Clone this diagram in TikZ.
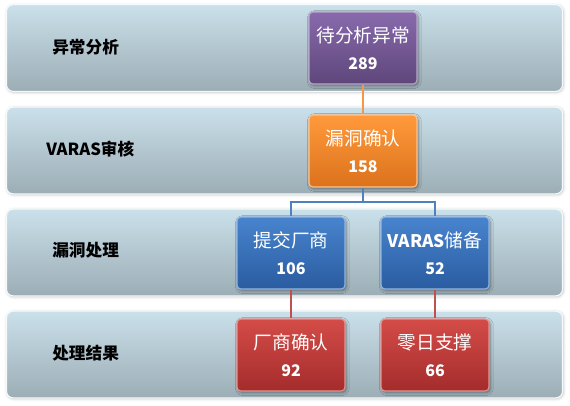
\documentclass[tikz,border=0pt]{standalone}
\usepackage{xcolor}
\usepackage{tikz}
\usepackage{fontspec}
\setmainfont{Noto Sans CJK SC}
\newfontfamily\cjk{Noto Sans CJK SC}
\usetikzlibrary{shadows.blur}
\usetikzlibrary{shapes}
\definecolor{bandtop}{RGB}{202,224,234}
\definecolor{bandbot}{RGB}{156,173,181}
\definecolor{purtop}{RGB}{136,106,172}
\definecolor{purbot}{RGB}{94,70,122}
\definecolor{orgtop}{RGB}{255,154,60}
\definecolor{orgbot}{RGB}{220,114,28}
\definecolor{blutop}{RGB}{72,132,206}
\definecolor{blubot}{RGB}{42,92,160}
\definecolor{redtop}{RGB}{212,76,72}
\definecolor{redbot}{RGB}{164,44,44}
\definecolor{orgline}{RGB}{247,150,70}
\definecolor{bluline}{RGB}{79,129,189}
\definecolor{redline}{RGB}{192,80,77}
\newcommand{\countfont}{\bfseries\fontsize{12}{14}\selectfont}

\begin{document}
\begin{tikzpicture}[x=0.75pt,y=0.75pt,yscale=-1,xscale=1,
  band/.style={draw=white!85!bandtop,line width=0.8pt,rounded corners=5pt,
    top color=bandtop,bottom color=bandbot,minimum width=417pt,minimum height=65pt,
    blur shadow={shadow xshift=0.6pt,shadow yshift=-0.6pt,shadow blur steps=4,shadow opacity=25}},
  steplabel/.style={anchor=west,inner sep=0pt,font=\cjk\bfseries\fontsize{12.5}{14}\selectfont,text=black},
  stat/.style={rounded corners=3pt,minimum width=81pt,minimum height=54pt,align=center,
    text=white,font=\cjk\fontsize{14}{16}\selectfont,line width=0.8pt,
    blur shadow={shadow xshift=1pt,shadow yshift=-1.2pt,shadow blur steps=5,shadow opacity=40}},
  purplebox/.style={stat,draw=purtop!60!white,top color=purtop,bottom color=purbot},
  orangebox/.style={stat,draw=orgtop!60!white,top color=orgtop,bottom color=orgbot},
  bluebox/.style={stat,draw=blutop!60!white,top color=blutop,bottom color=blubot},
  redbox/.style={stat,draw=redtop!60!white,top color=redtop,bottom color=redbot}
]
\useasboundingbox (0,0) rectangle (570,405);

%Bands
\node [band] (band1) at (284.5,48) {};
\node [band] (band2) at (284.5,150.5) {};
\node [band] (band3) at (284.5,252.5) {};
\node [band] (band4) at (284.5,354.5) {};

% Band labels
\node [steplabel] (lab1) at (52,47) {异常分析};
\node [steplabel] (lab2) at (46,149) {VARAS审核};
\node [steplabel] (lab3) at (52,250) {漏洞处理};
\node [steplabel] (lab4) at (52,353) {处理结果};

% Count boxes
\node [purplebox] (pending) at (363,48) {待分析异常\\[4pt]{\countfont 289}};
\node [orangebox] (confirm) at (363,151) {漏洞确认\\[4pt]{\countfont 158}};
\node [bluebox] (vendor) at (291,253) {提交厂商\\[4pt]{\countfont 106}};
\node [bluebox] (reserve) at (435,253) {{\bfseries\fontsize{13}{16}\selectfont VARAS}储备\\[4pt]{\countfont 52}};
\node [redbox] (vconfirm) at (291,355) {厂商确认\\[4pt]{\countfont 92}};
\node [redbox] (zeroday) at (435,355) {零日支撑\\[4pt]{\countfont 66}};

%Connectors
\coordinate (split) at (363,202);
\draw [orgline,line width=1.5pt] (pending.south) -- (confirm.north);
\draw [bluline,line width=1.5pt] (confirm.south) -- (split);
\draw [bluline,line width=1.5pt] (vendor.north) |- (split) -| (reserve.north);
\draw [redline,line width=1.5pt] (vendor.south) -- (vconfirm.north);
\draw [redline,line width=1.5pt] (reserve.south) -- (zeroday.north);

\end{tikzpicture}
\end{document}
